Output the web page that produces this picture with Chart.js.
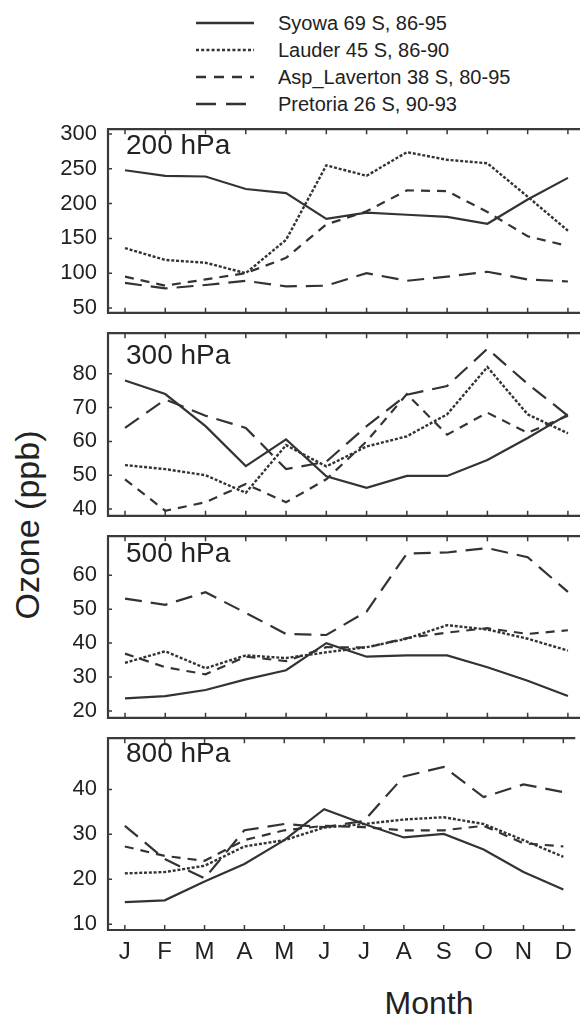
<!DOCTYPE html>
<html>
<head>
<meta charset="utf-8">
<script src="https://cdn.jsdelivr.net/npm/chart.js@4.4.1/dist/chart.umd.min.js"></script>
<style>
  body { margin: 0; background: #fff; }
  #page { position: relative; width: 580px; height: 1019px; overflow: hidden; font-family: "Liberation Sans", Arial, sans-serif; color: #222; }
  .panel { position: absolute; left: 0; width: 580px; }
  .lvl { position: absolute; left: 126px; font-size: 28px; line-height: 28px; }
  .leg { position: absolute; left: 195px; height: 20px; }
  .leg svg { position: absolute; left: 0; top: 0; }
  .leg span { position: absolute; left: 83px; top: 0; font-size: 20px; line-height: 20px; white-space: nowrap; }
  #ytitle { position: absolute; left: 27px; top: 525px; font-size: 34px; line-height: 34px; white-space: nowrap; transform: translate(-50%, -50%) rotate(-90deg); }
  #xtitle { position: absolute; left: 429px; top: 1003px; font-size: 32px; line-height: 32px; transform: translate(-50%, -50%); }
</style>
</head>
<body>
<div id="page">
  <div id="legend"></div>
  <div id="ytitle">Ozone (ppb)</div>
  <div id="xtitle">Month</div>
</div>
<script>
// months along the bottom
const months = ['J', 'F', 'M', 'A', 'M', 'J', 'J', 'A', 'S', 'O', 'N', 'D'];
const stations = ['Syowa 69 S, 86-95', 'Lauder 45 S, 86-90', 'Asp_Laverton 38 S, 80-95', 'Pretoria 26 S, 90-93'];

// 200 hPa
const syowa200 = [248, 240, 239, 221, 215, 178, 187, 184, 181, 171, 206, 237];
const lauder200 = [136, 119, 115, 100, 148, 255, 240, 274, 263, 258, 210, 161];
const asp200 = [95, 82, 91, 100, 122, 170, 189, 219, 218, 188, 153, 139];
const pret200 = [86, 78, 83, 89, 81, 82, 100, 89, 95, 102, 91, 88];
const ticks200 = [50, 100, 150, 200, 250, 300];

// 300 hPa
const syowa300 = [78, 74, 64.5, 52.7, 60.6, 49.7, 46.3, 49.8, 49.8, 54.5, 61, 68];
const lauder300 = [53, 51.8, 50, 44.8, 58.9, 52.6, 58.5, 61.5, 68, 82, 68, 62.4];
const asp300 = [48.8, 39.5, 42, 47.4, 42, 48.8, 60, 74, 62, 68.5, 62.5, 67.6];
const pret300 = [64, 72.4, 67.6, 64, 51.8, 54, 64.5, 73.8, 76.4, 87.4, 77, 67.6];
const ticks300 = [40, 50, 60, 70, 80];

// 500 hPa
const syowa500 = [23.7, 24.4, 26.2, 29.3, 32, 40, 36, 36.4, 36.4, 32.9, 28.9, 24.4];
const lauder500 = [34.2, 37.6, 32.6, 36.4, 35.6, 37.3, 38.8, 41.3, 45.3, 44, 41.3, 37.8];
const asp500 = [36.9, 32.9, 30.8, 36, 34.7, 38.8, 38.7, 41.5, 43.1, 44.4, 42.7, 43.8];
const pret500 = [53.1, 51.3, 55, 48.9, 42.7, 42.4, 49.3, 66.4, 66.7, 68, 65.3, 55.1];
const ticks500 = [20, 30, 40, 50, 60];

// 800 hPa
const syowa800 = [14.9, 15.3, 19.5, 23.4, 28.7, 35.6, 32.3, 29.3, 30.1, 26.6, 21.6, 17.7];
const lauder800 = [21.3, 21.6, 23, 27.3, 28.7, 31.5, 32.3, 33.3, 33.8, 32.3, 28.7, 25];
const asp800 = [27.3, 25.2, 24.1, 28.7, 30.9, 31.9, 31.6, 30.9, 30.9, 31.9, 28, 27.3];
const pret800 = [31.9, 24.5, 20.2, 30.9, 32.3, 31.6, 33, 42.9, 45, 38.3, 41.1, 39.4];
const ticks800 = [10, 20, 30, 40];

// line look per station (solid, dotted, short dash, long dash)
const dashes = [[], [3, 1.8], [9, 7], [17, 9]];
const ink = '#333';
const FONT = '"Liberation Sans", Arial, sans-serif';

// panels: level, series, y ticks, y range, top and bottom of the plot box on the page
const panels = [
  { label: '200 hPa', series: [syowa200, lauder200, asp200, pret200], ticks: ticks200, min: 43, max: 307, top: 120, bottom: 322, labelTop: 131 },
  { label: '300 hPa', series: [syowa300, lauder300, asp300, pret300], ticks: ticks300, min: 38, max: 92, top: 324, bottom: 525, labelTop: 341 },
  { label: '500 hPa', series: [syowa500, lauder500, asp500, pret500], ticks: ticks500, min: 18, max: 71.5, top: 527, bottom: 727, labelTop: 539 },
  { label: '800 hPa', series: [syowa800, lauder800, asp800, pret800], ticks: ticks800, min: 8.7, max: 51.4, top: 729, bottom: 930, labelTop: 739 }
];

// box + inward ticks like the old plotting package
const frame = {
  id: 'frame',
  afterDraw(chart) {
    const { ctx, chartArea: a, scales: { x, y } } = chart;
    ctx.save();
    ctx.strokeStyle = '#3a3a3a';
    ctx.lineWidth = 2.2;
    ctx.beginPath();
    ctx.moveTo(a.right, a.top);
    ctx.lineTo(a.left, a.top);
    ctx.lineTo(a.left, a.bottom);
    ctx.lineTo(a.right, a.bottom);
    ctx.stroke();
    ctx.lineWidth = 1.5;
    ctx.beginPath();
    y.ticks.forEach(t => {
      const py = y.getPixelForValue(t.value);
      ctx.moveTo(a.left, py);
      ctx.lineTo(a.left + 4, py);
    });
    months.forEach((m, i) => {
      const px = x.getPixelForValue(i);
      ctx.moveTo(px, a.top);
      ctx.lineTo(px, a.top + 5);
      ctx.moveTo(px, a.bottom);
      ctx.lineTo(px, a.bottom - 5);
    });
    ctx.stroke();
    ctx.restore();
  }
};

const page = document.getElementById('page');
const PAD = 15;

panels.forEach((p, k) => {
  const last = k === panels.length - 1;
  const cTop = p.top - PAD;
  const cHeight = last ? 1019 - cTop : (p.bottom - p.top) + 2 * PAD;

  const wrap = document.createElement('div');
  wrap.className = 'panel';
  wrap.style.top = cTop + 'px';
  wrap.style.height = cHeight + 'px';
  const canvas = document.createElement('canvas');
  wrap.appendChild(canvas);
  page.appendChild(wrap);

  const lbl = document.createElement('div');
  lbl.className = 'lvl';
  lbl.style.top = p.labelTop + 'px';
  lbl.textContent = p.label;
  page.appendChild(lbl);

  new Chart(canvas, {
    type: 'line',
    data: {
      datasets: p.series.map((vals, s) => ({
        label: stations[s],
        data: vals.map((v, i) => ({ x: i, y: v })),
        borderColor: ink,
        borderWidth: s === 1 ? 2.4 : 2.2,
        borderDash: dashes[s],
        pointRadius: 0,
        tension: 0,
        fill: false
      }))
    },
    options: {
      responsive: true,
      maintainAspectRatio: false,
      animation: false,
      layout: { padding: { top: PAD, bottom: last ? 0 : PAD, left: 0, right: 0 } },
      plugins: { legend: { display: false }, tooltip: { enabled: false } },
      scales: {
        x: {
          type: 'linear',
          display: last,
          min: -0.422,
          max: 11.3,
          afterBuildTicks: s => { s.ticks = months.map((m, i) => ({ value: i })); },
          afterFit: s => { s.height = last ? 1019 - p.bottom : 0; },
          grid: { display: false, drawTicks: false },
          border: { display: false },
          ticks: {
            autoSkip: false,
            maxRotation: 0,
            padding: 8,
            color: '#222',
            font: { family: FONT, size: 24 },
            callback: v => months[v]
          }
        },
        y: {
          min: p.min,
          max: p.max,
          afterBuildTicks: s => { s.ticks = p.ticks.map(v => ({ value: v })); },
          afterFit: s => { s.width = 108; },
          grid: { display: false, drawTicks: false },
          border: { display: false },
          ticks: {
            padding: 11,
            color: '#222',
            font: { family: FONT, size: 22 }
          }
        }
      }
    },
    plugins: [frame]
  });
});

// legend rows above the top panel
const legend = document.getElementById('legend');
const rowY = [13, 40, 67, 94];
stations.forEach((name, s) => {
  const row = document.createElement('div');
  row.className = 'leg';
  row.style.top = rowY[s] + 'px';
  const dash = dashes[s].length ? ` stroke-dasharray="${s === 3 ? '20 10' : s === 2 ? '10 8' : '3 2.2'}"` : '';
  row.innerHTML = `<svg width="60" height="20"><line x1="1" y1="10" x2="59" y2="10" stroke="${ink}" stroke-width="2.5"${dash}/></svg><span>${name}</span>`;
  legend.appendChild(row);
});
</script>
</body>
</html>
